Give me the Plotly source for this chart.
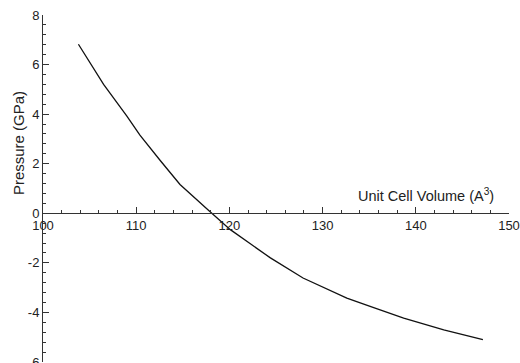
import plotly.graph_objects as go

volume = [103.8, 106.5, 109.0, 110.4, 112.6, 114.7, 117.9, 120.1, 122.4, 124.4, 127.9, 132.6, 135.1, 138.7, 143.0, 147.2]
pressure = [6.82, 5.20, 3.92, 3.15, 2.12, 1.16, 0.07, -0.66, -1.27, -1.80, -2.61, -3.42, -3.76, -4.23, -4.70, -5.10]

x_ticks = [100, 110, 120, 130, 140, 150]
y_ticks = [-6, -4, -2, 0, 2, 4, 6, 8]

FAM = "Liberation Sans, Arial, sans-serif"
font = dict(family=FAM, size=13, color="#222222")

fig = go.Figure()
fig.add_trace(go.Scatter(x=volume, y=pressure, mode="lines",
                         line=dict(color="#111111", width=1.3),
                         showlegend=False))

fig.update_layout(
    width=520, height=363,
    margin=dict(l=43, r=11, t=15, b=1, autoexpand=False),
    paper_bgcolor="white", plot_bgcolor="white",
    font=font,
    xaxis=dict(range=[100, 150], tickvals=x_ticks, ticktext=[str(v) for v in x_ticks],
               showgrid=False, zeroline=False, showline=True, linecolor="#333333", linewidth=1,
               ticks="inside", ticklen=6, tickcolor="#333333", automargin=False,
               ticklabeloverflow="allow",
               minor=dict(dtick=2, ticks="inside", ticklen=3, tickcolor="#333333"),
               anchor="free", position=6/14, side="bottom"),
    yaxis=dict(range=[-6, 8], tickvals=y_ticks, ticktext=[str(v) for v in y_ticks],
               showgrid=False, zeroline=False, showline=True, linecolor="#333333", linewidth=1,
               ticks="inside", ticklen=6, tickcolor="#333333", automargin=False,
               ticklabeloverflow="allow",
               minor=dict(dtick=0.4, ticks="inside", ticklen=3, tickcolor="#333333")),
    annotations=[
        dict(text="Unit Cell Volume (A<sup>3</sup>)", x=141.1, y=0.72, xref="x", yref="y",
             xanchor="center", yanchor="middle",
             showarrow=False, font=dict(size=14.5, family=FAM, color="#222222")),
        dict(text="Pressure (GPa)", x=-0.0535, y=0.631, xref="paper", yref="paper",
             xanchor="center", yanchor="middle",
             textangle=-90, showarrow=False,
             font=dict(size=15, family=FAM, color="#222222")),
    ],
)

fig.write_html("out.html", config={"displayModeBar": False},
               post_script="document.body.style.margin='0px';document.body.style.overflow='hidden';")
